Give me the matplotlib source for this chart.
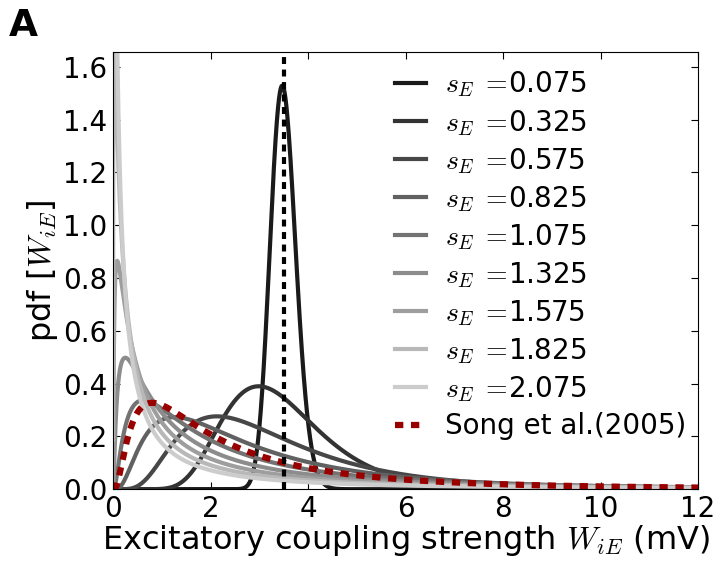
import numpy as np
import matplotlib
matplotlib.use('Agg')
import matplotlib.pyplot as plt

plt.rcParams['mathtext.fontset'] = 'cm'
plt.rcParams['font.family'] = 'DejaVu Sans'
plt.rcParams['lines.scale_dashes'] = False

# lognormal widths of the excitatory couplings, mean coupling fixed (mV)
s_E = [0.075, 0.325, 0.575, 0.825, 1.075, 1.325, 1.575, 1.825, 2.075]
mean_W = 3.5
grays = [0.10, 0.20, 0.28, 0.38, 0.45, 0.55, 0.62, 0.72, 0.80]

song_mu = 0.70
song_sigma = 0.96

x_ticks = [0, 2, 4, 6, 8, 10, 12]
y_ticks = [0.0, 0.2, 0.4, 0.6, 0.8, 1.0, 1.2, 1.4, 1.6]


def lognorm_pdf(x, mu, sigma):
    return np.exp(-(np.log(x) - mu) ** 2 / (2 * sigma ** 2)) / (x * sigma * np.sqrt(2 * np.pi))


x = np.linspace(0.0005, 12, 6000)

fig = plt.figure(figsize=(7.2, 5.61), dpi=100)
ax = fig.add_axes([0.157, 0.128, 0.8125, 0.779])

for s, g in zip(s_E, grays):
    mu = np.log(mean_W) - s ** 2 / 2
    ax.plot(x, lognorm_pdf(x, mu, s), color=str(g), lw=3,
            label=r'$s_E\;=\!$%.3f' % s)

ax.plot(x, lognorm_pdf(x, song_mu, song_sigma), color='#990000', lw=4.5,
        dashes=(6, 5.5), label='Song et al.(2005)')
ax.axvline(mean_W, color='k', lw=3, dashes=(5, 4))

ax.set_xlim(0, 12)
ax.set_ylim(0, 1.655)
ax.set_xticks(x_ticks)
ax.set_yticks(y_ticks)
ax.tick_params(direction='in', length=5, labelsize=20, top=True, right=True, pad=4)

ax.set_xlabel(r'Excitatory coupling strength $W_{iE}$ (mV)', fontsize=23, labelpad=0)
ax.set_ylabel(r'pdf [$W_{iE}$]', fontsize=23, labelpad=2)

ax.legend(loc='upper right', frameon=False, fontsize=20, handlelength=1.1,
          handletextpad=0.7, labelspacing=0.30, bbox_to_anchor=(1.023, 1.017))

fig.text(0.012, 0.935, 'A', fontsize=27, fontweight='bold')

fig.savefig('out.png', dpi=100)
